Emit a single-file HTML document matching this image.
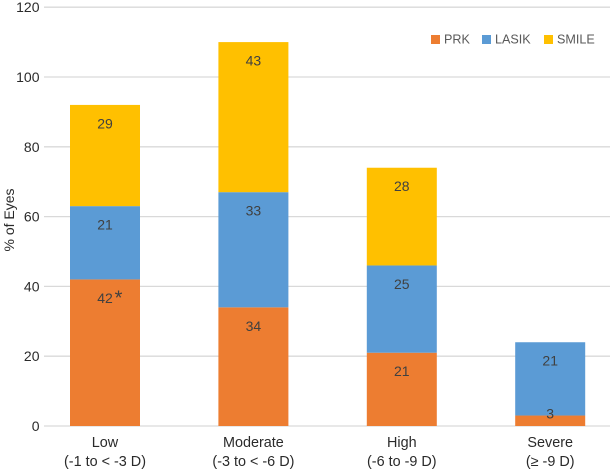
<!DOCTYPE html>
<html lang="en">
<head>
<meta charset="utf-8">
<title>% of Eyes by Myopia Severity</title>
<style>
html,body{margin:0;padding:0;background:#fff;}
body{width:613px;height:472px;overflow:hidden;}
svg{display:block;font-family:"Liberation Sans",sans-serif;}
</style>
</head>
<body>
<svg id="chart" width="613" height="472" viewBox="0 0 613 472" xmlns="http://www.w3.org/2000/svg">
  <g id="grid"></g>
  <g id="bars"></g>
  <g id="value-labels"></g>
  <g id="y-ticks"></g>
  <g id="x-ticks"></g>
  <text transform="translate(14,220) rotate(-90)" text-anchor="middle" font-size="14" fill="#2a2a2a">% of Eyes</text>
  <g id="legend"></g>
</svg>
<script>
const categories = ["Low", "Moderate", "High", "Severe"];
const ranges = ["(-1 to < -3 D)", "(-3 to < -6 D)", "(-6 to -9 D)", "(≥ -9 D)"];
const prk = [42, 34, 21, 3];
const lasik = [21, 33, 25, 21];
const smile = [29, 43, 28, 0];
const yTicks = [0, 20, 40, 60, 80, 100, 120];
const seriesNames = ["PRK", "LASIK", "SMILE"];

const NS = "http://www.w3.org/2000/svg";
const seriesValues = [prk, lasik, smile];
const seriesColors = ["#ed7d31", "#5b9bd5", "#ffc000"];
const plotLeft = 44, plotRight = 610, bandStart = 105, bandStep = 148.4, barWidth = 70;

function yScale(v) { return 426 - v * 3.49; }
function xCenter(i) { return bandStart + bandStep * i; }
function make(tag, attrs, parent, content) {
  const el = document.createElementNS(NS, tag);
  for (const k in attrs) el.setAttribute(k, attrs[k]);
  if (content !== undefined) el.textContent = content;
  parent.appendChild(el);
  return el;
}

const gridG = document.getElementById("grid");
const yG = document.getElementById("y-ticks");
yTicks.forEach(function (t) {
  const line = make("line", { x1: plotLeft, x2: plotRight, y1: yScale(t), y2: yScale(t), stroke: "#d9d9d9", "stroke-width": 1.3 }, gridG);
  
  
  const label = make("text", { x: 39.5, y: yScale(t) + 5, "text-anchor": "end", "font-size": 14, fill: "#2a2a2a" }, yG, String(t));
  
  
});

const barsG = document.getElementById("bars");
const labelsG = document.getElementById("value-labels");
categories.forEach(function (cat, i) {
  let base = 0;
  seriesValues.forEach(function (vals, s) {
    const v = vals[i];
    if (!v) return;
    const top = yScale(base + v), bottom = yScale(base);
    const rect = make("rect", { x: xCenter(i) - barWidth / 2, y: top, width: barWidth, height: bottom - top, fill: seriesColors[s] }, barsG);
    
    
    const ly = v < 5 ? top + 3 : top + 23.5;
    const lab = make("text", { x: xCenter(i), y: ly, "text-anchor": "middle", "font-size": 14, fill: "#404040" }, labelsG, String(v));
    
    
    if (i === 0 && s === 0) {
      const star = make("text", { x: xCenter(i) + 13.5, y: top + 25, "text-anchor": "middle", "font-size": 20, fill: "#404040" }, labelsG, "*");
      
      
    }
    base += v;
  });
});

const xG = document.getElementById("x-ticks");
categories.forEach(function (cat, i) {
  const a = make("text", { x: xCenter(i), y: 447, "text-anchor": "middle", "font-size": 14.4, fill: "#2a2a2a" }, xG, cat);
  
  
  const b = make("text", { x: xCenter(i), y: 466, "text-anchor": "middle", "font-size": 14.4, fill: "#2a2a2a" }, xG, ranges[i]);
  
  
});

const legendG = document.getElementById("legend");
const legendSwatchX = [431, 482, 544];
seriesNames.forEach(function (name, s) {
  const sw = make("rect", { x: legendSwatchX[s], y: 35, width: 9, height: 9, fill: seriesColors[s] }, legendG);
  
  
  const t = make("text", { x: legendSwatchX[s] + 13, y: 43.5, "font-size": 12.6, fill: "#595959" }, legendG, name);
  
  
});
</script>
</body>
</html>
